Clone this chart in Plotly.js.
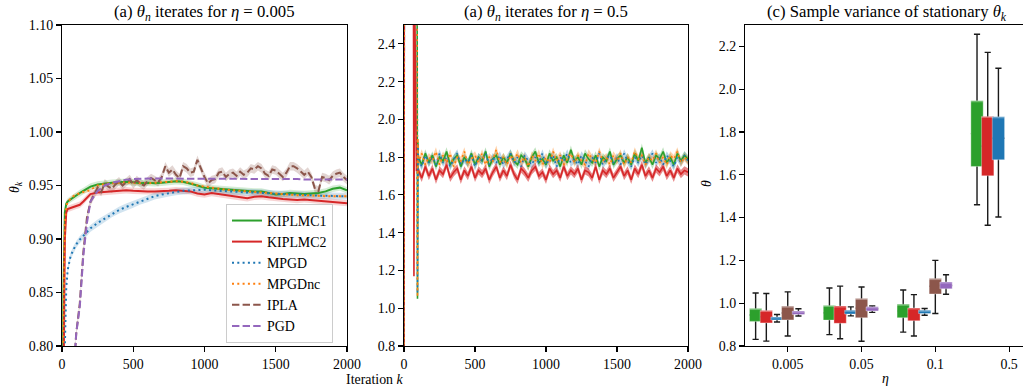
<!DOCTYPE html>
<html>
<head>
<meta charset="utf-8">
<script src="https://cdn.plot.ly/plotly-3.0.1.min.js"></script>
<style>html,body{margin:0;padding:0;background:#fff;}#chart{width:1023px;height:389px;}</style>
</head>
<body>
<div id="chart"></div>
<script>
// ---------------- Panel 1 data (eta = 0.005) ----------------
const kA = [0,10,20,30,40,60,80,100,125,150,175,200,
  250,300,350,400,450,500,550,600,650,700,750,800,850,900,950,1000,
  1050,1100,1150,1200,1250,1300,1350,1400,1450,1500,1550,1600,1650,1700,
  1750,1800,1850,1900,1950,2000];
const kiplmc1_a = [0.60,0.85,0.925,0.933,0.935,0.937,0.939,0.941,0.943,0.945,0.947,0.949,
  0.951,0.952,0.9525,0.953,0.9535,0.953,0.952,0.9525,0.952,0.9525,0.953,0.954,0.9535,0.952,0.950,0.948,
  0.9475,0.947,0.946,0.9455,0.945,0.9445,0.9445,0.9445,0.943,0.9415,0.942,0.943,0.9425,0.942,
  0.9425,0.943,0.9445,0.947,0.948,0.9455];
const kiplmc2_a = [0.60,0.80,0.90,0.925,0.928,0.929,0.930,0.931,0.932,0.935,0.939,0.942,
  0.9435,0.944,0.9445,0.945,0.9455,0.945,0.9445,0.9445,0.9445,0.9445,0.945,0.9455,0.945,0.9445,0.9425,0.9415,
  0.943,0.942,0.9415,0.9405,0.939,0.938,0.9395,0.940,0.939,0.938,0.9375,0.937,0.9365,0.937,
  0.9365,0.936,0.935,0.9345,0.934,0.9335];
const mpgd_a = [0.55,0.72,0.80,0.855,0.871,0.884,0.890,0.895,0.8995,0.903,0.906,0.910,
  0.915,0.919,0.9235,0.927,0.930,0.9325,0.9355,0.9375,0.940,0.9415,0.943,0.944,0.945,0.9455,0.946,0.946,
  0.9455,0.945,0.9445,0.944,0.944,0.9435,0.9435,0.943,0.9425,0.942,0.942,0.9415,0.9415,0.941,
  0.941,0.9405,0.9405,0.940,0.940,0.940];
const mpgdnc_a = [0.60,0.82,0.915,0.930,0.935,0.938,0.940,0.9415,0.943,0.944,0.9445,0.946,
  0.950,0.9515,0.952,0.9525,0.953,0.9525,0.952,0.952,0.9525,0.953,0.9535,0.954,0.9535,0.9525,0.950,0.949,
  0.948,0.9465,0.946,0.9455,0.945,0.9445,0.944,0.9435,0.943,0.942,0.9415,0.9415,0.941,0.941,
  0.9405,0.9405,0.940,0.940,0.940,0.940];
const pgd_a = [0.40,0.45,0.50,0.55,0.60,0.68,0.77,0.812,0.837,0.885,0.915,0.935,
  0.945,0.950,0.9525,0.954,0.9555,0.956,0.9565,0.9565,0.9565,0.9565,0.9565,0.9565,0.9565,0.956,0.956,0.956,
  0.956,0.956,0.956,0.956,0.956,0.956,0.956,0.956,0.956,0.956,0.956,0.956,0.956,0.9555,
  0.9555,0.9555,0.9555,0.9555,0.9555,0.9555];
const kIplaStart = [0,40,80];
const iplaStart_a = [0.40,0.60,0.77];
// shared dense grid (used by IPLA in panel 1 and all series in panel 2)
const kS = [100,125,150,175,200,225,250,275,300,325,350,
  375,400,425,450,475,500,525,550,575,600,625,
  650,675,700,725,750,775,800,825,850,875,900,
  925,950,975,1000,1025,1050,1075,1100,1125,1150,1175,
  1200,1225,1250,1275,1300,1325,1350,1375,1400,1425,1450,
  1475,1500,1525,1550,1575,1600,1625,1650,1675,1700,1725,
  1750,1775,1800,1825,1850,1875,1900,1925,1950,1975,2000];
const ipla_a = [0.812,0.840,0.888,0.920,0.935,0.942,0.948,0.944,0.952,0.949,0.947,
  0.951,0.954,0.950,0.953,0.956,0.951,0.955,0.952,0.950,0.954,0.957,
  0.955,0.953,0.958,0.968,0.962,0.965,0.960,0.957,0.968,0.966,0.962,
  0.963,0.974,0.966,0.958,0.952,0.955,0.956,0.962,0.963,0.958,0.961,
  0.962,0.959,0.963,0.960,0.962,0.966,0.965,0.968,0.966,0.961,0.959,
  0.965,0.964,0.961,0.958,0.962,0.968,0.968,0.966,0.963,0.960,0.963,
  0.958,0.947,0.945,0.958,0.957,0.955,0.959,0.961,0.962,0.958,0.955];
// band half widths
const hw_a = {KIPLMC1:0.003, KIPLMC2:0.003, MPGD:0.0032, MPGDnc:0.0015, IPLA:0.004};
const hw_b = 0.022;

// ---------------- Panel 2 data (eta = 0.5) ----------------
const kTrans = [0,2,92,95,98];
const kTransRed = [0,2,66,70,76,88];
const kiplmc1_bT = [0.5,3.0,3.0,1.05,1.88];
const mpgd_bT = [0.5,3.0,3.0,1.08,1.87];
const mpgdnc_bT = [0.5,3.0,3.0,1.06,1.90];
const kiplmc2_bT = [0.5,3.0,3.0,1.17,2.6,1.73];
const kDiv = [0,3];
const ipla_bT = [0.5,3.0];
const pgd_bT = [0.5,3.0];
const kiplmc1_b = [1.80,1.76,1.82,1.77,1.81,1.75,1.80,1.78,1.83,1.76,1.79,
  1.81,1.75,1.80,1.77,1.82,1.76,1.80,1.78,1.83,1.75,1.79,
  1.81,1.76,1.80,1.77,1.82,1.78,1.76,1.81,1.79,1.75,1.80,
  1.83,1.77,1.79,1.76,1.82,1.78,1.80,1.75,1.81,1.77,1.84,
  1.78,1.80,1.76,1.82,1.79,1.77,1.81,1.75,1.80,1.78,1.83,
  1.76,1.79,1.81,1.77,1.80,1.76,1.82,1.78,1.85,1.77,1.80,
  1.76,1.81,1.79,1.83,1.77,1.80,1.76,1.82,1.78,1.81,1.79];
const kiplmc2_b = [1.73,1.69,1.75,1.70,1.74,1.68,1.73,1.71,1.76,1.69,1.72,
  1.74,1.68,1.73,1.70,1.75,1.69,1.73,1.71,1.74,1.68,1.72,
  1.75,1.69,1.73,1.70,1.76,1.71,1.68,1.74,1.72,1.69,1.73,
  1.75,1.70,1.72,1.68,1.74,1.71,1.73,1.69,1.75,1.70,1.73,
  1.71,1.74,1.68,1.73,1.72,1.69,1.75,1.68,1.73,1.71,1.74,
  1.69,1.72,1.75,1.70,1.73,1.68,1.74,1.71,1.76,1.70,1.73,
  1.69,1.74,1.72,1.75,1.70,1.73,1.69,1.74,1.71,1.73,1.72];
const mpgd_b = [1.79,1.75,1.81,1.77,1.80,1.76,1.82,1.77,1.80,1.75,1.79,
  1.82,1.76,1.79,1.77,1.81,1.75,1.80,1.78,1.82,1.76,1.80,
  1.77,1.81,1.76,1.79,1.82,1.77,1.80,1.75,1.81,1.78,1.76,
  1.80,1.77,1.82,1.76,1.79,1.81,1.75,1.80,1.78,1.82,1.77,
  1.79,1.76,1.81,1.78,1.75,1.80,1.77,1.82,1.76,1.79,1.81,
  1.77,1.80,1.76,1.82,1.78,1.75,1.80,1.77,1.81,1.76,1.79,
  1.82,1.77,1.80,1.76,1.81,1.78,1.75,1.80,1.77,1.81,1.78];
const mpgdnc_b = [1.77,1.82,1.76,1.80,1.78,1.83,1.76,1.81,1.77,1.82,1.75,
  1.80,1.78,1.83,1.76,1.79,1.81,1.77,1.82,1.76,1.80,1.78,
  1.84,1.77,1.80,1.76,1.81,1.78,1.82,1.77,1.80,1.75,1.81,
  1.78,1.82,1.76,1.80,1.77,1.83,1.78,1.81,1.76,1.79,1.82,
  1.77,1.81,1.78,1.76,1.82,1.79,1.77,1.83,1.78,1.80,1.76,
  1.81,1.78,1.82,1.76,1.80,1.77,1.83,1.79,1.81,1.76,1.80,
  1.78,1.82,1.77,1.80,1.76,1.81,1.79,1.83,1.77,1.80,1.78];

// ---------------- Panel 3 data (box summaries) ----------------
const etaLabels = ['0.005','0.05','0.1','0.5'];
const box_KIPLMC1 = {lo:[0.831,0.853,0.865,1.460], q1:[0.915,0.921,0.932,1.639], q3:[0.975,0.989,0.995,1.946], hi:[1.048,1.071,1.062,2.257]};
const box_KIPLMC2 = {lo:[0.823,0.834,0.847,1.364], q1:[0.908,0.906,0.918,1.595], q3:[0.966,0.987,0.978,1.873], hi:[1.045,1.080,1.040,2.172]};
const box_MPGD    = {lo:[0.912,0.941,0.944,1.403], q1:[0.921,0.949,0.952,1.670], q3:[0.936,0.967,0.967,1.871], hi:[0.947,0.983,0.975,2.098]};
const box_IPLA    = {lo:[0.847,0.822,0.952,null], q1:[0.922,0.932,1.043,null], q3:[0.986,1.022,1.115,null], hi:[1.053,1.076,1.200,null]};
const box_PGD     = {lo:[0.940,0.957,1.042,null], q1:[0.947,0.964,1.067,null], q3:[0.963,0.983,1.099,null], hi:[0.974,0.987,1.133,null]};

// ---------------- styles ----------------
const FONT = '"Liberation Serif", "Times New Roman", serif';
const C = {KIPLMC1:'#2ca02c', KIPLMC2:'#d62728', MPGD:'#1f77b4', MPGDnc:'#ff7f0e', IPLA:'#8c564b', PGD:'#9467bd'};
const CF = {KIPLMC1:'rgba(44,160,44,0.2)', KIPLMC2:'rgba(214,39,40,0.2)', MPGD:'rgba(31,119,180,0.2)', MPGDnc:'rgba(255,127,14,0.2)', IPLA:'rgba(140,86,75,0.25)'};
const DASH = {KIPLMC1:'solid', KIPLMC2:'solid', MPGD:'2px,3.3px', MPGDnc:'2px,3.3px', IPLA:'7.4px,3.2px', PGD:'7.4px,3.2px'};

const traces = [];
function band(name, k, v, hw, xa, ya, fc){
  const up = v.map(a => a + hw), dn = v.map(a => a - hw);
  traces.push({type:'scatter', mode:'lines', x:k.concat(k.slice().reverse()), y:up.concat(dn.reverse()),
    fill:'toself', fillcolor:fc || CF[name], line:{width:0}, hoverinfo:'skip', showlegend:false, xaxis:xa, yaxis:ya});
}
function line(name, k, v, xa, ya, legend, w){
  traces.push({type:'scatter', mode:'lines', name:name, x:k, y:v, showlegend:legend,
    line:{color:C[name], width:w, dash:DASH[name]}, xaxis:xa, yaxis:ya});
}

// Panel 1
const kIpla = kIplaStart.concat(kS);
const iplaAll = iplaStart_a.concat(ipla_a);
band('KIPLMC1', kA, kiplmc1_a, hw_a.KIPLMC1, 'x', 'y');
band('KIPLMC2', kA, kiplmc2_a, hw_a.KIPLMC2, 'x', 'y');
band('MPGD', kA, mpgd_a, hw_a.MPGD, 'x', 'y');
band('MPGDnc', kA, mpgdnc_a, hw_a.MPGDnc, 'x', 'y');
band('IPLA', kIpla, iplaAll, hw_a.IPLA, 'x', 'y');
line('KIPLMC1', kA, kiplmc1_a, 'x', 'y', true, 2);
line('KIPLMC2', kA, kiplmc2_a, 'x', 'y', true, 2);
line('MPGD', kA, mpgd_a, 'x', 'y', true, 2);
line('MPGDnc', kA, mpgdnc_a, 'x', 'y', true, 2);
line('IPLA', kIpla, iplaAll, 'x', 'y', true, 2);
line('PGD', kA, pgd_a, 'x', 'y', true, 2);

// Panel 2
band('KIPLMC1', kS, kiplmc1_b, hw_b, 'x2', 'y2', 'rgba(44,160,44,0.30)');
band('MPGD', kS, mpgd_b, hw_b, 'x2', 'y2', 'rgba(31,119,180,0.30)');
band('MPGDnc', kS, mpgdnc_b, hw_b, 'x2', 'y2', 'rgba(255,127,14,0.35)');
band('KIPLMC2', kS, kiplmc2_b, hw_b, 'x2', 'y2', 'rgba(214,39,40,0.55)');
line('IPLA', kDiv, ipla_bT, 'x2', 'y2', false, 1.5);
line('PGD', kDiv, pgd_bT, 'x2', 'y2', false, 1.5);
line('KIPLMC1', kTrans.concat(kS), kiplmc1_bT.concat(kiplmc1_b), 'x2', 'y2', false, 1.6);
line('KIPLMC2', kTransRed.concat(kS), kiplmc2_bT.concat(kiplmc2_b), 'x2', 'y2', false, 1.6);
line('MPGD', kTrans.concat(kS), mpgd_bT.concat(mpgd_b), 'x2', 'y2', false, 1.6);
line('MPGDnc', kTrans.concat(kS), mpgdnc_bT.concat(mpgdnc_b), 'x2', 'y2', false, 1.6);

// Panel 3
const boxSets = [['KIPLMC1', box_KIPLMC1, -0.435], ['KIPLMC2', box_KIPLMC2, -0.29], ['MPGD', box_MPGD, -0.145], ['IPLA', box_IPLA, 0], ['PGD', box_PGD, 0.145]];
const BW = 0.167;
boxSets.forEach(([name, b, off]) => {
  const idx = etaLabels.map((_, i) => i).filter(i => b.q1[i] !== null);
  const xs = idx.map(i => i + off);
  const mid = idx.map(i => (b.q1[i] + b.q3[i]) / 2);
  traces.push({type:'box', x:xs, q1:mid, median:mid, q3:mid, lowerfence:idx.map(i => b.lo[i]), upperfence:idx.map(i => b.hi[i]),
    width:BW, whiskerwidth:0.5, line:{color:'#1a1a1a', width:1.4}, fillcolor:'rgba(0,0,0,0)', boxpoints:false,
    showlegend:false, hoverinfo:'skip', xaxis:'x3', yaxis:'y3'});
  traces.push({type:'box', x:xs, q1:idx.map(i => b.q1[i]), median:idx.map(i => b.q3[i]), q3:idx.map(i => b.q3[i]),
    lowerfence:idx.map(i => b.q1[i]), upperfence:idx.map(i => b.q3[i]),
    width:BW, whiskerwidth:0, line:{color:'rgba(255,255,255,0.35)', width:1}, fillcolor:C[name], boxpoints:false,
    showlegend:false, hoverinfo:'skip', xaxis:'x3', yaxis:'y3'});
});

const ax = {showline:true, linecolor:'black', linewidth:1.1, mirror:true, ticks:'outside', ticklen:5, tickwidth:1.1,
  tickcolor:'black', showgrid:false, zeroline:false, fixedrange:true, tickfont:{family:FONT, size:13.9, color:'black'}};
const yDom = [43/389, 364/389];
const layout = {
  width:1023, height:389, margin:{l:0, r:0, t:0, b:0}, paper_bgcolor:'white', plot_bgcolor:'white',
  font:{family:FONT, size:13.9, color:'black'}, boxmode:'overlay',
  xaxis:Object.assign({}, ax, {domain:[62/1023, 347/1023], range:[0,2000], tickvals:[0,500,1000,1500,2000], anchor:'y'}),
  yaxis:Object.assign({}, ax, {domain:yDom, range:[0.8,1.1], tickvals:[0.8,0.85,0.9,0.95,1.0,1.05,1.1], tickformat:'.2f', anchor:'x'}),
  xaxis2:Object.assign({}, ax, {domain:[404/1023, 688/1023], range:[0,2000], tickvals:[0,500,1000,1500,2000], anchor:'y2'}),
  yaxis2:Object.assign({}, ax, {domain:yDom, range:[0.8,2.5], tickvals:[0.8,1.0,1.2,1.4,1.6,1.8,2.0,2.2,2.4], tickformat:'.1f', anchor:'x2'}),
  xaxis3:Object.assign({}, ax, {domain:[745/1023, 1], range:[-0.579,3.188], tickvals:[0,1,2,3], ticktext:etaLabels, anchor:'y3'}),
  yaxis3:Object.assign({}, ax, {domain:yDom, range:[0.8,2.3], mirror:false, tickvals:[0.8,1.0,1.2,1.4,1.6,1.8,2.0,2.2], tickformat:'.1f', anchor:'x3'}),
  legend:{x:226/1023, y:(389-204)/389, xanchor:'left', yanchor:'top', bgcolor:'rgba(255,255,255,0.8)', bordercolor:'#cccccc', borderwidth:1,
    font:{family:FONT, size:13.9, color:'black'}, tracegroupgap:0},
  annotations:[
    {text:'(a) <i>θ</i><sub><i>n</i></sub> iterates for <i>η</i> = 0.005', x:204.5/1023, y:(389-13)/389, xref:'paper', yref:'paper', showarrow:false, xanchor:'center', yanchor:'middle', font:{family:FONT, size:16.7}},
    {text:'(a) <i>θ</i><sub><i>n</i></sub> iterates for <i>η</i> = 0.5', x:546/1023, y:(389-13)/389, xref:'paper', yref:'paper', showarrow:false, xanchor:'center', yanchor:'middle', font:{family:FONT, size:16.7}},
    {text:'(c) Sample variance of stationary <i>θ</i><sub><i>k</i></sub>', x:887/1023, y:(389-13)/389, xref:'paper', yref:'paper', showarrow:false, xanchor:'center', yanchor:'middle', font:{family:FONT, size:16.7}},
    {text:'Iteration <i>k</i>', x:375/1023, y:(389-379)/389, xref:'paper', yref:'paper', showarrow:false, xanchor:'center', yanchor:'middle', font:{family:FONT, size:13.9}},
    {text:'<i>η</i>', x:885/1023, y:(389-378)/389, xref:'paper', yref:'paper', showarrow:false, xanchor:'center', yanchor:'middle', font:{family:FONT, size:13.9}},
    {text:'<i>θ</i><sub><i>k</i></sub>', x:15/1023, y:(389-187)/389, xref:'paper', yref:'paper', showarrow:false, xanchor:'center', yanchor:'middle', textangle:-90, font:{family:FONT, size:13.9}},
    {text:'<i>θ</i>', x:706/1023, y:(389-184)/389, xref:'paper', yref:'paper', showarrow:false, xanchor:'center', yanchor:'middle', textangle:-90, font:{family:FONT, size:13.9}}
  ]
};
Plotly.newPlot('chart', traces, layout, {displayModeBar:false, staticPlot:true});
</script>
</body>
</html>
